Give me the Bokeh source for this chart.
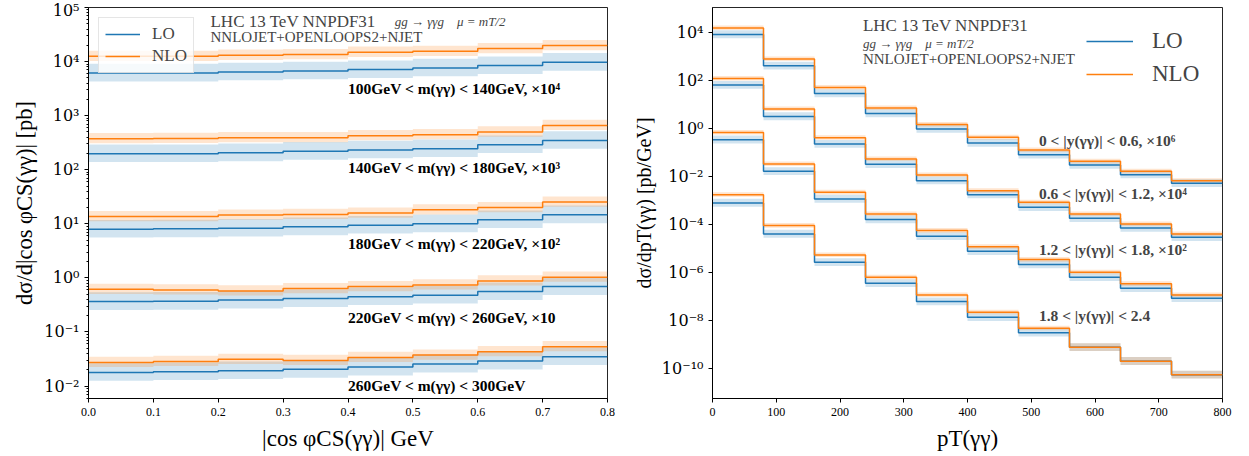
from bokeh.plotting import figure
from bokeh.models import FixedTicker, Legend, LegendItem, Range1d, CustomJSTickFormatter, Label
from bokeh.layouts import row
from bokeh.embed import file_html
from bokeh.resources import INLINE

BLUE = "#1f77b4"
ORANGE = "#ff7f0e"
FONT = "Liberation Serif"
TICKFONT = "DejaVu Serif"
SP = "\u00a0"

# ---------------- left panel data: |cos phi_CS| in m(gamma gamma) slices ----------------
cos_edges = [0.0, 0.1, 0.2, 0.3, 0.4, 0.5, 0.6, 0.7, 0.8]
mass_labels = ["100GeV < m(γγ) < 140GeV, ×10⁴", "140GeV < m(γγ) < 180GeV, ×10³",
               "180GeV < m(γγ) < 220GeV, ×10²", "220GeV < m(γγ) < 260GeV, ×10",
               "260GeV < m(γγ) < 300GeV"]
mass_scales = [1e4, 1e3, 1e2, 10.0, 1.0]
lo_m100 = [0.615, 0.615, 0.645, 0.670, 0.710, 0.764, 0.843, 0.970]
nlo_m100 = [1.25, 1.25, 1.31, 1.35, 1.49, 1.55, 1.74, 1.98]
lo_m140 = [0.198, 0.198, 0.206, 0.219, 0.232, 0.245, 0.290, 0.349]
nlo_m140 = [0.375, 0.380, 0.392, 0.392, 0.426, 0.445, 0.499, 0.660]
lo_m180 = [0.0796, 0.0807, 0.0830, 0.0880, 0.0945, 0.100, 0.119, 0.147]
nlo_m180 = [0.136, 0.136, 0.145, 0.149, 0.158, 0.182, 0.200, 0.252]
lo_m220 = [0.0365, 0.0370, 0.0390, 0.0414, 0.0450, 0.0479, 0.0558, 0.0690]
nlo_m220 = [0.0617, 0.0600, 0.0575, 0.0634, 0.0690, 0.0741, 0.0880, 0.103]
lo_m260 = [0.0179, 0.0184, 0.0192, 0.0204, 0.0225, 0.0255, 0.0290, 0.0349]
nlo_m260 = [0.0274, 0.0286, 0.0312, 0.0298, 0.0339, 0.0375, 0.0432, 0.0535]

# ---------------- right panel data: pT(gamma gamma) in |y| slices ----------------
pt_edges = [0, 80, 160, 240, 320, 400, 480, 560, 640, 720, 800]
rap_labels = ["0 < |y(γγ)| < 0.6, ×10⁶", "0.6 < |y(γγ)| < 1.2, ×10⁴",
              "1.2 < |y(γγ)| < 1.8, ×10²", "1.8 < |y(γγ)| < 2.4"]
rap_scales = [1e6, 1e4, 1e2, 1.0]
lo_y00 = [8.1e-3, 4.05e-4, 2.85e-5, 4.2e-6, 9.4e-7, 2.47e-7, 8.06e-8, 3.0e-8, 1.19e-8, 5.17e-9]
nlo_y00 = [1.496e-2, 7.69e-4, 5.07e-5, 7.05e-6, 1.45e-6, 4.23e-7, 1.26e-7, 4.25e-8, 1.63e-8, 6.69e-9]
lo_y06 = [6.35e-3, 3.15e-4, 2.24e-5, 3.18e-6, 6.69e-7, 1.75e-7, 5.2e-8, 1.81e-8, 7.2e-9, 2.95e-9]
nlo_y06 = [1.2e-2, 6.4e-4, 4.1e-5, 5.35e-6, 1.153e-6, 2.57e-7, 8.4e-8, 2.75e-8, 1.06e-8, 4.06e-9]
lo_y12 = [3.39e-3, 1.63e-4, 1.16e-5, 1.6e-6, 3.23e-7, 7.69e-8, 2.15e-8, 6.38e-9, 2.22e-9, 8.5e-10]
nlo_y12 = [6.82e-3, 3.31e-4, 2.18e-5, 2.76e-6, 5.57e-7, 1.2e-7, 3.47e-8, 1.03e-8, 3.39e-9, 1.18e-9]
lo_y18 = [7.9e-4, 4.06e-5, 2.68e-6, 3.59e-7, 6.22e-8, 1.38e-8, 3.11e-9, 7.83e-10, 2.05e-10, 5.57e-11]
nlo_y18 = [1.75e-3, 9.0e-5, 5.44e-6, 6.38e-7, 1.18e-7, 2.24e-8, 4.83e-9, 7.83e-10, 2.05e-10, 5.57e-11]

lo_band = (0.70, 1.48)
nlo_band = (0.82, 1.27)
nlo_band_up_y18 = [1.27, 1.27, 1.27, 1.27, 1.27, 1.27, 1.27, 1.48, 1.48, 1.48]
nlo_band_dn_y18 = [0.82, 0.82, 0.82, 0.82, 0.82, 0.82, 0.82, 0.70, 0.70, 0.70]

sup_js = """
const e = Math.round(Math.log10(tick));
const m = {"-":"\u207b","0":"\u2070","1":"\u00b9","2":"\u00b2","3":"\u00b3","4":"\u2074","5":"\u2075","6":"\u2076","7":"\u2077","8":"\u2078","9":"\u2079"};
return "10" + String(e).split("").map(c => m[c]).join("");
"""


def style(p, ysize, xsize, xlab, ylab):
    p.outline_line_color = "black"
    p.outline_line_alpha = 0.85
    p.outline_line_width = 1
    p.xgrid.visible = False
    p.ygrid.visible = False
    for ax in (p.xaxis[0], p.yaxis[0]):
        ax.axis_line_color = "black"
        ax.major_tick_in = 0
        ax.major_tick_out = 4
        ax.minor_tick_in = 0
        ax.minor_tick_out = 2
        ax.major_label_text_font = FONT
        ax.axis_label_text_font = FONT
        ax.axis_label_text_font_style = "normal"
        ax.axis_label_text_color = "black"
        ax.major_label_text_color = "black"
    p.xaxis[0].axis_label_text_font_size = xlab
    p.yaxis[0].axis_label_text_font_size = ylab
    p.yaxis[0].major_label_text_font = TICKFONT
    p.yaxis[0].major_label_text_font_size = ysize
    p.xaxis[0].major_label_text_font_size = xsize
    p.xaxis[0].minor_tick_line_color = None
    p.xaxis[0].axis_label_standoff = 7
    p.yaxis[0].axis_label_standoff = 4


def draw(p, edges, lo, nlo, scale, nup=None, ndn=None):
    lo_s = [v * scale for v in lo]
    nlo_s = [v * scale for v in nlo]
    nup = nup or [nlo_band[1]] * len(nlo)
    ndn = ndn or [nlo_band[0]] * len(nlo)
    lo_lo = [v * lo_band[0] for v in lo_s]
    lo_hi = [v * lo_band[1] for v in lo_s]
    nlo_lo = [v * f for v, f in zip(nlo_s, ndn)]
    nlo_hi = [v * f for v, f in zip(nlo_s, nup)]
    p.varea_step(x=edges, y1=lo_lo + lo_lo[-1:], y2=lo_hi + lo_hi[-1:], step_mode="after",
                 fill_color=BLUE, fill_alpha=0.2)
    p.varea_step(x=edges, y1=nlo_lo + nlo_lo[-1:], y2=nlo_hi + nlo_hi[-1:], step_mode="after",
                 fill_color=ORANGE, fill_alpha=0.2)
    r1 = p.step(x=edges, y=lo_s + lo_s[-1:], mode="after", line_color=BLUE, line_width=1.5)
    r2 = p.step(x=edges, y=nlo_s + nlo_s[-1:], mode="after", line_color=ORANGE, line_width=1.5)
    return r1, r2


# ================= left figure =================
FT, FB = 7, 50
FH = 391
LB, LR = 88, 14
left = figure(width=LB + 519 + LR, height=FT + FH + FB, frame_width=519, frame_height=FH,
              min_border_left=LB, min_border_right=LR, min_border_top=FT, min_border_bottom=FB,
              x_range=Range1d(0, 0.8), y_range=Range1d(10 ** -2.23, 1e5), y_axis_type="log",
              output_backend="svg", toolbar_location=None)
style(left, "16px", "12px", "23px", "22.5px")
left.xaxis[0].ticker = FixedTicker(ticks=[0.0, 0.1, 0.2, 0.3, 0.4, 0.5, 0.6, 0.7, 0.8])
left.xaxis[0].major_label_overrides = {0.0: "0.0"}
left.yaxis[0].ticker = FixedTicker(ticks=[10.0 ** e for e in range(-2, 6)],
                                   minor_ticks=[k * 10.0 ** e for e in range(-3, 5) for k in range(2, 10)])
left.yaxis[0].formatter = CustomJSTickFormatter(code=sup_js)
left.xaxis[0].axis_label = "|cos φCS(γγ)| GeV"
left.yaxis[0].axis_label = "dσ/d|cos φCS(γγ)| [pb]"

left_series = [(lo_m100, nlo_m100), (lo_m140, nlo_m140), (lo_m180, nlo_m180),
               (lo_m220, nlo_m220), (lo_m260, nlo_m260)]
leg_r = None
for (lo, nlo), sc in zip(left_series, mass_scales):
    rr = draw(left, cos_edges, lo, nlo, sc)
    if leg_r is None:
        leg_r = rr

mass_label_y = [3200, 110, 4.3, 0.183, 0.0101]
for txt, yy in zip(mass_labels, mass_label_y):
    left.add_layout(Label(x=0.4, y=yy, text=txt, text_font=FONT, text_font_size="15.5px",
                          text_font_style="bold", text_baseline="middle", text_color="black"))

left.add_layout(Label(x=0.188, y=10 ** 4.75, text="LHC 13 TeV NNPDF31", text_font=FONT,
                      text_font_size="17px", text_baseline="middle"))
left.add_layout(Label(x=0.472, y=10 ** 4.74, text=f"gg → γγg{SP*4}μ = mT/2", text_font=FONT,
                      text_font_size="13px", text_font_style="italic", text_baseline="middle"))
left.add_layout(Label(x=0.188, y=10 ** 4.46, text="NNLOJET+OPENLOOPS2+NJET", text_font=FONT,
                      text_font_size="15px", text_baseline="middle"))

legL = Legend(items=[LegendItem(label="LO", renderers=[leg_r[0]]),
                     LegendItem(label="NLO", renderers=[leg_r[1]])],
              location="top_left", margin=10, padding=6, spacing=2,
              glyph_width=35, glyph_height=20, label_height=20, label_standoff=12,
              label_text_font=FONT, label_text_font_size="17px",
              border_line_color="#cccccc", border_line_width=1,
              background_fill_color="white", background_fill_alpha=0.8)
left.add_layout(legL)

# ================= right figure =================
RB, RR = 712 - (LB + 519 + LR), 18
right = figure(width=RB + 510 + RR, height=FT + FH + FB, frame_width=510, frame_height=FH,
               min_border_left=RB, min_border_right=RR, min_border_top=FT, min_border_bottom=FB,
               x_range=Range1d(0, 800), y_range=Range1d(10 ** -11.24, 10 ** 5.03), y_axis_type="log",
               output_backend="svg", toolbar_location=None)
style(right, "16px", "12px", "23px", "20px")
right.xaxis[0].ticker = FixedTicker(ticks=[0, 100, 200, 300, 400, 500, 600, 700, 800])
right.yaxis[0].ticker = FixedTicker(ticks=[10.0 ** e for e in range(-10, 5, 2)], minor_ticks=[])
right.yaxis[0].minor_tick_line_color = None
right.yaxis[0].formatter = CustomJSTickFormatter(code=sup_js)
right.xaxis[0].axis_label = "pT(γγ)"
right.yaxis[0].axis_label = "dσ/dpT(γγ) [pb/GeV]"

right_series = [(lo_y00, nlo_y00), (lo_y06, nlo_y06), (lo_y12, nlo_y12), (lo_y18, nlo_y18)]
leg_rr = None
for i, ((lo, nlo), sc) in enumerate(zip(right_series, rap_scales)):
    if i == 3:
        rr = draw(right, pt_edges, lo, nlo, sc, nlo_band_up_y18, nlo_band_dn_y18)
    else:
        rr = draw(right, pt_edges, lo, nlo, sc)
    if leg_rr is None:
        leg_rr = rr

rap_label_y = [10 ** -0.51, 10 ** -2.73, 10 ** -5.06, 10 ** -7.79]
for txt, yy in zip(rap_labels, rap_label_y):
    right.add_layout(Label(x=512, y=yy, text=txt, text_font=FONT, text_font_size="15.5px",
                           text_font_style="bold", text_baseline="middle"))

right.add_layout(Label(x=236, y=10 ** 4.27, text="LHC 13 TeV NNPDF31", text_font=FONT,
                       text_font_size="17px", text_baseline="middle"))
right.add_layout(Label(x=236, y=10 ** 3.52, text=f"gg → γγg{SP*4}μ = mT/2", text_font=FONT,
                       text_font_size="13px", text_font_style="italic", text_baseline="middle"))
right.add_layout(Label(x=236, y=10 ** 2.90, text="NNLOJET+OPENLOOPS2+NJET", text_font=FONT,
                       text_font_size="15px", text_baseline="middle"))

legR = Legend(items=[LegendItem(label="LO", renderers=[leg_rr[0]]),
                     LegendItem(label="NLO", renderers=[leg_rr[1]])],
              location=(374, 309), padding=5, spacing=3,
              glyph_width=47, glyph_height=30, label_height=30, label_standoff=19,
              label_text_font=FONT, label_text_font_size="23px",
              border_line_color=None, background_fill_alpha=0.0)
right.add_layout(legR)

layout = row(left, right)
open("out.html", "w").write(file_html(layout, INLINE))
